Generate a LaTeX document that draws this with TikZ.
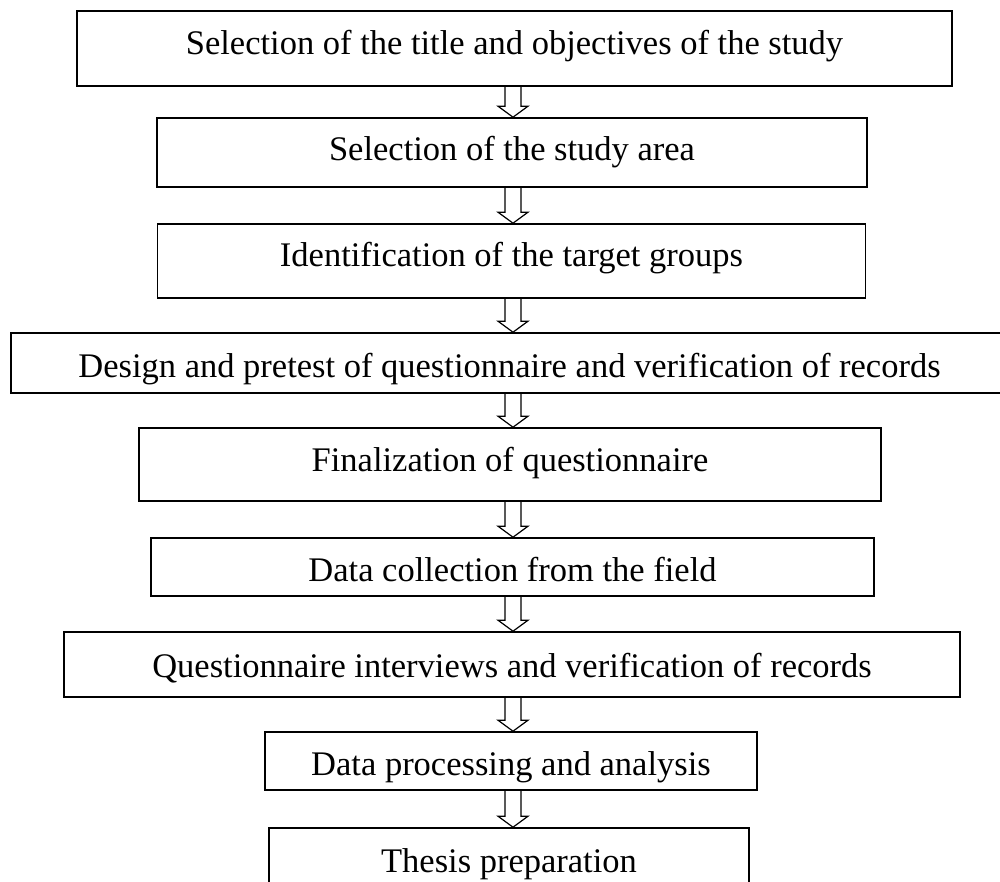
\documentclass[tikz,border=0pt]{standalone}
\usepackage{fontspec}
\setmainfont{Liberation Serif}
\usetikzlibrary{positioning}

\tikzset{
  stepbox/.style={draw, line width=1.6pt, inner sep=0pt, text depth=0pt,
    font=\fontsize{34.5pt}{40pt}\selectfont},
  hollowarrow/.style={line width=1.2pt, line join=miter}
}

\begin{document}
\begin{tikzpicture}[x=1pt, y=-1pt]
        \useasboundingbox (0,0) rectangle (1000,882);

        % Riquadri
        \node[stepbox, minimum width=875pt, minimum height=75pt, text height=13pt] (title) at (514.5,48.5) {Selection of the title and objectives of the study};
        \node[stepbox, minimum width=710pt, minimum height=69pt, text height=17pt] (area) at (512,152.5) {Selection of the study area};
        \node[stepbox, minimum width=708pt, minimum height=74pt, text height=11pt] (groups) at (511.5,261) {Identification of the target groups};
        \node[stepbox, minimum width=997pt, minimum height=60pt, text height=28pt] (design) at (509.5,363) {Design and pretest of questionnaire and verification of records};
        \node[stepbox, minimum width=742pt, minimum height=73pt, text height=13pt] (final) at (510,464.5) {Finalization of questionnaire};
        \node[stepbox, minimum width=723pt, minimum height=58pt, text height=28pt] (field) at (512.5,567) {Data collection from the field};
        \node[stepbox, minimum width=896pt, minimum height=65pt, text height=25pt] (interview) at (512,664.5) {Questionnaire interviews and verification of records};
        \node[stepbox, minimum width=492pt, minimum height=58pt, text height=28pt] (analysis) at (511,761) {Data processing and analysis};
        \node[stepbox, minimum width=480pt, minimum height=60pt, text height=28pt] (thesis) at (509,858) {Thesis preparation};

        % Frecce
        \coordinate (ax) at (513,0);
        \foreach \a/\b in {title/area, area/groups, groups/design, design/final,
                           final/field, field/interview, interview/analysis, analysis/thesis} {
          \coordinate (s) at (\a.south -| ax);
          \coordinate (n) at (\b.north -| ax);
          \draw[hollowarrow] ([xshift=-8pt]s) -- ([xshift=-8pt,yshift=11pt]n)
            -- ([xshift=-15pt,yshift=11pt]n) -- (n) -- ([xshift=15pt,yshift=11pt]n)
            -- ([xshift=8pt,yshift=11pt]n) -- ([xshift=8pt]s);
        }
    \end{tikzpicture}
\end{document}
